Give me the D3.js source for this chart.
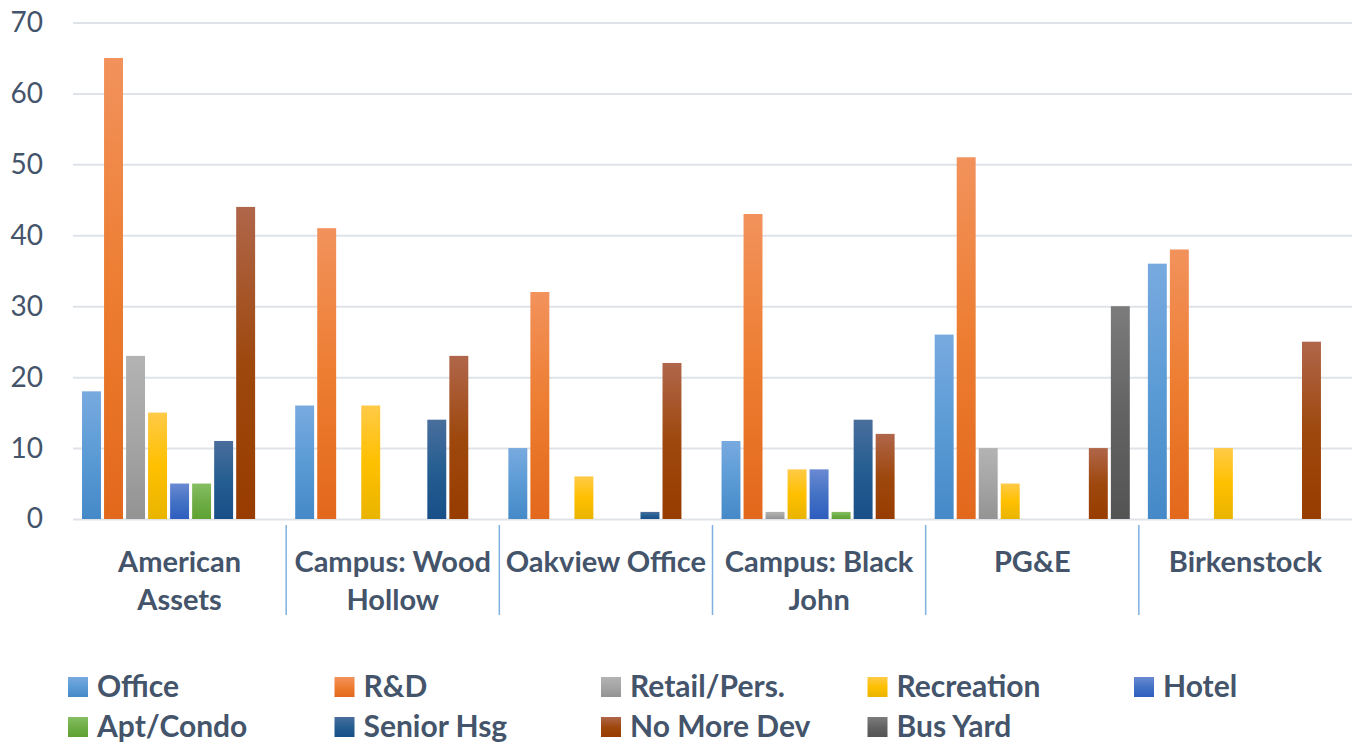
<!DOCTYPE html>
<html>
<head>
<meta charset="utf-8">
<script src="https://cdn.jsdelivr.net/npm/d3@7"></script>
<style>
  body { margin: 0; background: #fff; }
  svg { display: block; font-family: Lato, "Open Sans", sans-serif; }
</style>
</head>
<body>
<svg width="1356" height="745"></svg>
<script>
// data
const categories = ["American Assets", "Campus: Wood Hollow", "Oakview Office", "Campus: Black John", "PG&E", "Birkenstock"];
const seriesNames = ["Office", "R&D", "Retail/Pers.", "Recreation", "Hotel", "Apt/Condo", "Senior Hsg", "No More Dev", "Bus Yard"];
const office     = [18, 16, 10, 11, 26, 36];
const rnd        = [65, 41, 32, 43, 51, 38];
const retail     = [23, 0, 0, 1, 10, 0];
const recreation = [15, 16, 6, 7, 5, 10];
const hotel      = [5, 0, 0, 7, 0, 0];
const aptCondo   = [5, 0, 0, 1, 0, 0];
const seniorHsg  = [11, 14, 1, 14, 0, 0];
const noMoreDev  = [44, 23, 22, 12, 10, 25];
const busYard    = [0, 0, 0, 0, 30, 0];
const yTicks = [0, 10, 20, 30, 40, 50, 60, 70];

const seriesValues = [office, rnd, retail, recreation, hotel, aptCondo, seniorHsg, noMoreDev, busYard];
// [top tint, base, bottom shade]
const colors = [
  ["#78aadf", "#5b9bd5", "#4589c8"],
  ["#f2925c", "#ed7d31", "#e2681c"],
  ["#b3b3b3", "#a5a5a5", "#939393"],
  ["#ffca47", "#ffc000", "#e9b400"],
  ["#6a8ad2", "#4472c4", "#2e5dbf"],
  ["#86bf62", "#70ad47", "#5ea232"],
  ["#4a6e9c", "#255e91", "#184f88"],
  ["#b0664a", "#9e480e", "#983c00"],
  ["#7c7c7c", "#636363", "#545454"]
];

const svg = d3.select("svg");
const plotLeft = 73, plotRight = 1352, plotTop = 22.5, plotBottom = 519;
const textColor = "#44546a";

const x = d3.scaleBand().domain(categories).range([plotLeft, plotRight]).padding(0);
const xs = d3.scaleBand().domain(seriesNames).range([0, x.bandwidth()])
  .paddingInner(0.14).paddingOuter(0.41);
const y = d3.scaleLinear().domain([0, 70]).range([plotBottom, plotTop]);

// gradients
const defs = svg.append("defs");
colors.forEach((c, i) => {
  const g = defs.append("linearGradient").attr("id", "grad" + i)
    .attr("x1", 0).attr("y1", 0).attr("x2", 0).attr("y2", 1);
  g.append("stop").attr("offset", "0%").attr("stop-color", c[0]);
  g.append("stop").attr("offset", "50%").attr("stop-color", c[1]);
  g.append("stop").attr("offset", "100%").attr("stop-color", c[2]);
});

// y axis with gridlines
const yAxis = svg.append("g")
  .attr("transform", `translate(${plotLeft},0)`)
  .call(d3.axisLeft(y).tickValues(yTicks).tickSize(-(plotRight - plotLeft)).tickPadding(30));
yAxis.select(".domain").remove();
yAxis.selectAll(".tick line").attr("stroke", "#dfe3e8").attr("stroke-width", 2);
yAxis.selectAll(".tick text")
  .attr("fill", textColor).style("font-size", "28px").style("font-family", "Lato, sans-serif");

// bars
const rows = categories.map((c, ci) => ({
  cat: c,
  vals: seriesNames.map((s, si) => ({ s, si, v: seriesValues[si][ci] }))
}));

svg.append("g").selectAll("g")
  .data(rows)
  .join("g")
  .attr("transform", d => `translate(${x(d.cat)},0)`)
  .selectAll("rect")
  .data(d => d.vals.filter(v => v.v > 0))
  .join("rect")
  .attr("x", d => xs(d.s))
  .attr("width", xs.bandwidth())
  .attr("y", d => y(d.v))
  .attr("height", d => y(0) - y(d.v))
  .attr("fill", d => `url(#grad${d.si})`);

// category separators
svg.append("g").selectAll("line")
  .data(categories.slice(1))
  .join("line")
  .attr("x1", d => x(d)).attr("x2", d => x(d))
  .attr("y1", 525).attr("y2", 615)
  .attr("stroke", "#7fb0e0").attr("stroke-width", 1.5);

// category labels, wrapped to band width
const catLabels = svg.append("g").selectAll("text")
  .data(categories)
  .join("text")
  .attr("x", d => x(d) + x.bandwidth() / 2)
  .attr("y", 572)
  .attr("text-anchor", "middle")
  .attr("fill", textColor)
  .style("font-size", "29px")
  .style("font-weight", "bold");

catLabels.each(function(d) {
  const t = d3.select(this);
  const words = d.split(" ");
  let line = [];
  let tspan = t.append("tspan").attr("x", x(d) + x.bandwidth() / 2).attr("dy", 0);
  words.forEach(w => {
    line.push(w);
    tspan.text(line.join(" "));
    if (tspan.node().getComputedTextLength() > x.bandwidth() - 4 && line.length > 1) {
      line.pop();
      tspan.text(line.join(" "));
      line = [w];
      tspan = t.append("tspan").attr("x", x(d) + x.bandwidth() / 2).attr("dy", 38).text(w);
    }
  });
});

// legend
const legend = svg.append("g").selectAll("g")
  .data(seriesNames)
  .join("g")
  .attr("transform", (d, i) => `translate(${68 + (i % 5) * 266.5},${i < 5 ? 677 : 717})`);
legend.append("rect")
  .attr("width", 20).attr("height", 20)
  .attr("fill", (d, i) => `url(#grad${i})`);
legend.append("text")
  .attr("x", 29).attr("y", 20)
  .attr("fill", textColor)
  .style("font-size", "30px")
  .style("font-weight", "bold")
  .text(d => d);
</script>
</body>
</html>
